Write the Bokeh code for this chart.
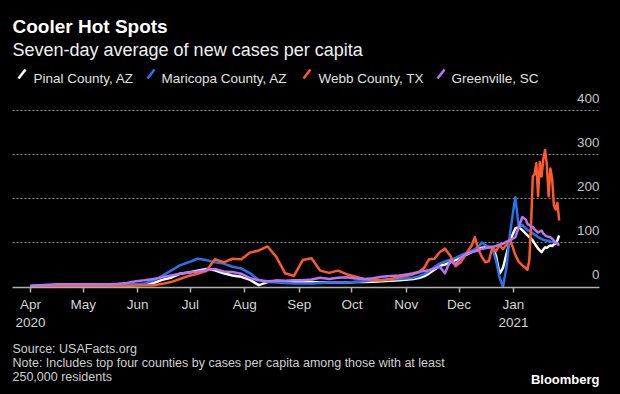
import pandas as pd
from bokeh.plotting import figure
from bokeh.layouts import column
from bokeh.models import ColumnDataSource, Range1d, FixedTicker, Grid, Label, LabelSet
from bokeh.embed import file_html
from bokeh.resources import INLINE
from bokeh.core.properties import value

# ---------------- data ----------------
dates = [
    "2020-04-01", "2020-04-06", "2020-04-11", "2020-04-16", "2020-04-21", "2020-04-26",
    "2020-05-01", "2020-05-06", "2020-05-11", "2020-05-16", "2020-05-21", "2020-05-26", "2020-05-31",
    "2020-06-05", "2020-06-10", "2020-06-15", "2020-06-20", "2020-06-25", "2020-06-30",
    "2020-07-05", "2020-07-10", "2020-07-15", "2020-07-20", "2020-07-25", "2020-07-30",
    "2020-08-04", "2020-08-09", "2020-08-14", "2020-08-19", "2020-08-24", "2020-08-29",
    "2020-09-03", "2020-09-08", "2020-09-13", "2020-09-18", "2020-09-23", "2020-09-28",
    "2020-10-03", "2020-10-08", "2020-10-13", "2020-10-18", "2020-10-23", "2020-10-28",
    "2020-11-02",
    "2020-11-05", "2020-11-08", "2020-11-11", "2020-11-14", "2020-11-17", "2020-11-20",
    "2020-11-23", "2020-11-26", "2020-11-29", "2020-12-02", "2020-12-05", "2020-12-08",
    "2020-12-10", "2020-12-12", "2020-12-14", "2020-12-16", "2020-12-18", "2020-12-20",
    "2020-12-22", "2020-12-24", "2020-12-26", "2020-12-28", "2020-12-30",
    "2021-01-02", "2021-01-04", "2021-01-06",
    "2021-01-08", "2021-01-09", "2021-01-10", "2021-01-11", "2021-01-12", "2021-01-13",
    "2021-01-14", "2021-01-15", "2021-01-16", "2021-01-17", "2021-01-18", "2021-01-19",
    "2021-01-20", "2021-01-21", "2021-01-22", "2021-01-23", "2021-01-24", "2021-01-25",
    "2021-01-26", "2021-01-27",
]

pinal = [
    1, 2, 2, 2, 2, 2,
    2, 3, 3, 3, 3, 3, 4,
    5, 8, 15, 20, 29, 32,
    36, 40, 37, 30, 25, 22,
    15, 3, 10, 13, 12, 11,
    11, 10, 9, 9, 9, 9,
    10, 10, 11, 12, 13, 14,
    16,
    17, 19, 23, 30, 38, 47, 50, 55, 60, 67, 72, 78,
    82, 86, 88, 89, 90, 90, 70, 29, 42, 74, 104,
    132, 135, 128,
    120, 116, 112, 108, 104, 98, 92, 86, 82, 78, 84, 89,
    88, 91, 93, 92, 96, 98, 105, 116,
]

maricopa = [
    1, 2, 3, 3, 3, 3,
    3, 3, 3, 3, 4, 4, 5,
    7, 13, 24, 36, 48, 55,
    63, 60, 55, 52, 45, 41,
    30, 15, 10, 9, 8, 7,
    7, 7, 8, 9, 9, 9,
    10, 12, 14, 15, 16, 17,
    19,
    20, 23, 28, 35, 44, 52, 57, 61, 65, 71, 76, 81,
    85, 90, 100, 94, 90, 86, 60, 21, -1, 44, 120,
    203, 135, 140,
    132, 128, 127, 124, 120, 118, 116, 112, 110, 108, 106, 105,
    104, 104, 102, 101, 101, 99, 98, 97,
]

webb = [
    0, 1, 1, 1, 1, 1,
    1, 1, 1, 1, 1, 1, 2,
    3, 3, 6, 10, 17, 24,
    29, 35, 62, 55, 63, 62,
    77, 82, 91, 67, 30, 24,
    60, 64, 36, 31, 36, 28,
    22, 17, 14, 14, 17, 21,
    25,
    28, 32, 42, 62, 63, 78, 86, 70, 46, 55, 74, 92,
    112, 84, 67, 55, 58, 90, 80, 94, 85, 95, 108,
    72, 56, 48,
    42, 38, 60, 140, 250, 255, 280, 205, 283, 250, 290, 310,
    275, 205, 268, 245, 185, 175, 190, 150,
]

greenville = [
    1, 3, 4, 5, 5, 5,
    5, 5, 5, 5, 6, 8, 12,
    14, 17, 21, 25, 29, 32,
    34, 37, 40, 34, 33, 29,
    19, 14, 12, 13, 13, 14,
    14, 16, 20, 17, 20, 21,
    18, 17, 19, 22, 24, 25,
    28,
    30, 33, 35, 37, 41, 45, 30, 59, 50, 65, 74, 78,
    80, 82, 86, 87, 89, 90, 92, 95, 97, 102, 105,
    112, 135, 158,
    152, 142, 140, 136, 135, 130, 126, 123, 125, 127, 120, 116,
    114, 113, 112, 108, 104, 100, 97, 93,
]

series_keys = ["pinal", "maricopa", "webb", "greenville"]
series_names = ["Pinal County, AZ", "Maricopa County, AZ", "Webb County, TX", "Greenville, SC"]
series_colors = ["#ffffff", "#2673ec", "#fa5b2a", "#b872f2"]

x_tick_dates = ["2020-04-01", "2020-05-01", "2020-06-01", "2020-07-01", "2020-08-01",
                "2020-09-01", "2020-10-01", "2020-11-01", "2020-12-01", "2021-01-01"]
x_tick_labels = ["Apr\n2020", "May", "Jun", "Jul", "Aug", "Sep", "Oct", "Nov", "Dec", "Jan\n2021"]
y_ticks = [0, 100, 200, 300, 400]
y_tick_labels = ["0", "100", "200", "300", "400"]
grid_ticks = [100, 200, 300, 400]

title = "Cooler Hot Spots"
subtitle = "Seven-day average of new cases per capita"
source_note = "Source: USAFacts.org"
note_1 = "Note: Includes top four counties by cases per capita among those with at least"
note_2 = "250,000 residents"
brand = "Bloomberg"

# ---------------- layout (page px; Bokeh page has no body margin) ----------------
W = 620
HEAD_H, MAIN_H, FOOT_H = 90, 250, 54
FL, FR, FT, FB = 12, 599, 90, 287          # main frame edges in page px
X_APR, X_JAN = 30, 513                      # page x of Apr 1 and Jan 1 ticks
Y_ZERO, PX_PER_UNIT = 286, 0.44
FONT = "Liberation Sans"
BG = "#000000"


def ms(s):
    return pd.Timestamp(s).value / 1e6


def blank(height, y_top):
    # frame is aligned with the chart frame by the column layout, so map page px onto it
    f = figure(width=W, height=height, x_range=Range1d(FL, FR),
               y_range=Range1d(y_top + height, y_top),
               x_axis_location=None, y_axis_location=None,
               output_backend="svg", toolbar_location=None,
               min_border_left=FL, min_border_right=W - FR,
               min_border_top=0, min_border_bottom=0,
               background_fill_color=BG, border_fill_color=BG, outline_line_color=None)
    f.grid.visible = False
    return f


def put(f, text, x, y, size, color, bold=False, align="left", font=FONT):
    f.add_layout(Label(x=x, y=y, text=text, text_align=align, text_baseline="alphabetic",
                       text_font=font, text_font_size=size, text_color=color,
                       text_font_style="bold" if bold else "normal"))


# ---------- header ----------
head = blank(HEAD_H, 0)
put(head, title, 12, 26, "19px", "#ffffff", bold=True)
put(head, subtitle, 12, 49, "18px", "#f0f0f0")
legend_slash_x = [18, 147, 303, 437]
legend_text_x = [33, 161, 318, 451]
head.segment(x0=legend_slash_x, y0=[78] * 4, x1=[x + 7 for x in legend_slash_x], y1=[69] * 4,
             line_color=series_colors, line_width=2.6)
for name, tx in zip(series_names, legend_text_x):
    put(head, name, tx, 78, "13.5px", "#e0e0e0")

# ---------- main chart ----------
day_ms = 86400000.0
ppd = (X_JAN - X_APR) / ((ms("2021-01-01") - ms("2020-04-01")) / day_ms)
x0 = ms("2020-04-01") - (X_APR - FL) / ppd * day_ms
x1 = ms("2020-04-01") + (FR - X_APR) / ppd * day_ms
y0 = (Y_ZERO - FB) / PX_PER_UNIT
y1 = (Y_ZERO - FT) / PX_PER_UNIT

p = figure(width=W, height=MAIN_H, x_axis_type="datetime", y_axis_location=None,
           x_range=Range1d(x0, x1), y_range=Range1d(y0, y1),
           output_backend="svg", toolbar_location=None,
           min_border_left=FL, min_border_right=W - FR,
           min_border_top=FT - HEAD_H, min_border_bottom=HEAD_H + MAIN_H - FB,
           background_fill_color=BG, border_fill_color=BG, outline_line_color=None)

p.xgrid.visible = False
p.ygrid.visible = False
p.add_layout(Grid(dimension=1, ticker=FixedTicker(ticks=grid_ticks),
                  grid_line_color="#8a8a8a", grid_line_dash="2 2", grid_line_width=1), "center")

tick_ms = [ms(d) for d in x_tick_dates]
ax = p.xaxis[0]
ax.ticker = FixedTicker(ticks=tick_ms)
ax.major_label_overrides = {t: l for t, l in zip(tick_ms, x_tick_labels)}
ax.axis_line_color = "#b0b0b0"
ax.axis_line_width = 1.5
ax.major_tick_line_color = "#b0b0b0"
ax.major_tick_line_width = 1.5
ax.major_tick_out = 5
ax.major_tick_in = 0
ax.minor_tick_line_color = None
ax.major_label_text_color = "#d4d4d4"
ax.major_label_text_font = FONT
ax.major_label_text_font_size = "13.5px"
ax.major_label_standoff = 4

src = ColumnDataSource(dict(date=pd.to_datetime(dates), pinal=pinal, maricopa=maricopa,
                            webb=webb, greenville=greenville))
for key, color in zip(series_keys, series_colors):
    p.line(x="date", y=key, source=src, line_color=color, line_width=2.5, line_join="round")

ysrc = ColumnDataSource(dict(x=[x1] * len(y_ticks), y=y_ticks, t=y_tick_labels))
p.add_layout(LabelSet(x="x", y="y", text="t", source=ysrc, text_align="right",
                      text_baseline="alphabetic", y_offset=8, text_color="#c4c4c4",
                      text_font=value(FONT), text_font_size="13.5px"))

# ---------- footer ----------
foot_top = HEAD_H + MAIN_H
foot = blank(FOOT_H, foot_top)
put(foot, source_note, 12, 348, "12.5px", "#cfcfcf")
put(foot, note_1, 12, 362, "12.5px", "#cfcfcf")
put(foot, note_2, 12, 376, "12.5px", "#cfcfcf")
put(foot, brand, 599, 379, "13px", "#ffffff", bold=True, align="right")

layout = column(head, p, foot, spacing=0, styles={"background-color": BG})
open("out.html", "w").write(file_html(layout, INLINE))
